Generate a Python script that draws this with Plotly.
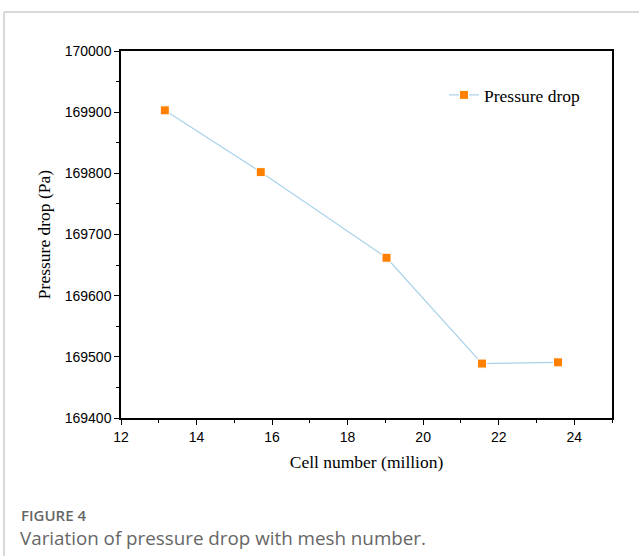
import plotly.graph_objects as go

# Mesh independence study: total pressure drop vs. cell count
cell_millions = [13.16, 15.70, 19.03, 21.56, 23.57]
pressure_drop_pa = [169903, 169802, 169662, 169489, 169491]

x_ticks = [12, 14, 16, 18, 20, 22, 24]
y_ticks = [169400, 169500, 169600, 169700, 169800, 169900, 170000]

W, H = 639, 556
L, R, T, B = 121, 27, 51, 138

fig = go.Figure()
fig.add_trace(go.Scatter(
    x=cell_millions, y=pressure_drop_pa,
    mode="lines+markers",
    name="Pressure drop",
    line=dict(color="#a9d2ea", width=1.2),
    marker=dict(symbol="square", size=9, color="#ff8000",
                line=dict(color="white", width=1)),
))

axis_common = dict(
    showline=True, linecolor="black", linewidth=1.5, mirror=True,
    ticks="outside", ticklen=5, tickwidth=1.2, tickcolor="black",
    showgrid=False, zeroline=False,
    tickfont=dict(family="Liberation Sans, Arial", size=14, color="black"),
    title_font=dict(family="Liberation Serif, Times New Roman", size=17.5, color="black"),
)

fig.update_xaxes(
    range=[12, 25], tickvals=x_ticks,
    ticktext=[str(v) for v in x_ticks],
    minor=dict(dtick=1, tick0=0, ticks="outside", ticklen=3, tickcolor="black", tickwidth=1),
    title_text="Cell number (million)", title_standoff=12,
    **axis_common,
)
fig.update_yaxes(
    range=[169400, 170000], tickvals=y_ticks,
    ticktext=[str(v) for v in y_ticks],
    minor=dict(dtick=50, tick0=0, ticks="outside", ticklen=3, tickcolor="black", tickwidth=1),
    title_text="Pressure drop (Pa)", title_standoff=10,
    **axis_common,
)

# Card frame around the figure
fig.add_shape(type="line", xref="paper", yref="paper",
              x0=(4 - L) / (W - L - R), x1=(W - L) / (W - L - R),
              y0=(H - 12 - B) / (H - T - B), y1=(H - 12 - B) / (H - T - B),
              line=dict(color="#cccccc", width=1.5))
fig.add_shape(type="line", xref="paper", yref="paper",
              x0=(4 - L) / (W - L - R), x1=(4 - L) / (W - L - R),
              y0=(H - 12 - B) / (H - T - B), y1=-B / (H - T - B),
              line=dict(color="#cccccc", width=1.5))

# Caption
fig.add_annotation(text="FIGURE 4", xref="paper", yref="paper",
                   x=(20 - L) / (W - L - R), y=(H - 526 - B) / (H - T - B),
                   xanchor="left", yanchor="bottom", showarrow=False, borderpad=0,
                   font=dict(family="Open Sans", size=15, weight=600, color="#666666"))
fig.add_annotation(text="Variation of pressure drop with mesh number.",
                   xref="paper", yref="paper",
                   x=(19 - L) / (W - L - R), y=(H - 524 - B) / (H - T - B),
                   xanchor="left", yanchor="top", showarrow=False, borderpad=0,
                   font=dict(family="Open Sans", size=18.8, color="#666666"))

fig.update_layout(
    width=W, height=H,
    margin=dict(l=L, r=R, t=T, b=B),
    paper_bgcolor="white", plot_bgcolor="white",
    showlegend=True,
    legend=dict(x=(444 - L) / (W - L - R), y=(H - 77 - B) / (H - T - B),
                xanchor="left", yanchor="top", bgcolor="rgba(0,0,0,0)",
                font=dict(family="Liberation Serif, Times New Roman", size=17.5, color="black")),
)

fig.write_html("out.html")
